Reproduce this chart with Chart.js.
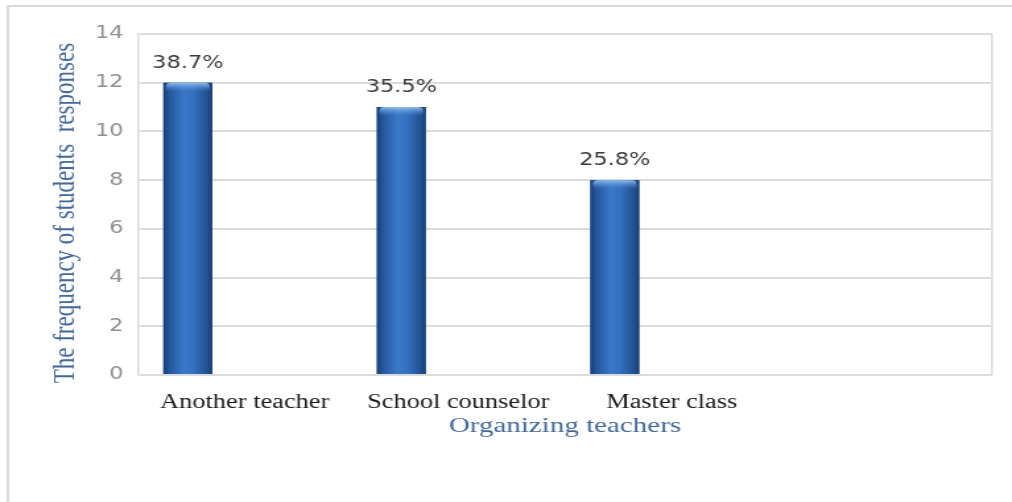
<!DOCTYPE html>
<html>
<head>
<meta charset="utf-8">
<script src="https://cdn.jsdelivr.net/npm/chart.js@4/dist/chart.umd.min.js"></script>
<style>
  html, body { margin: 0; padding: 0; background: #fff; }
  #wrap { width: 1012px; height: 502px; overflow: hidden; }
  /* the source picture is stretched sideways, so the canvas is too */
  #chart { transform: scaleX(1.3194); transform-origin: 0 0; }
</style>
</head>
<body>
<div id="wrap"><canvas id="chart" width="767" height="502"></canvas></div>
<script>
const categories = ['Another teacher', 'School counselor', 'Master class', ''];
const responses = [12, 11, 8, null];
const percentLabels = ['38.7%', '35.5%', '25.8%', ''];
// the original sheet had two more (empty) series, which is why the bars sit left of their labels
const series2 = [null, null, null, null];
const series3 = [null, null, null, null];
const yMin = 0, yMax = 14, yStep = 2;

const gridGrey = '#dcdcdc';
const titleBlue = '#41679b';

const frame = {
  id: 'frame',
  beforeDraw(chart) {
    const ctx = chart.ctx;
    ctx.save();
    ctx.strokeStyle = '#d9d9d9';
    ctx.lineWidth = 2;
    ctx.beginPath();
    ctx.moveTo(6, chart.height);
    ctx.lineTo(6, 6);
    ctx.lineTo(chart.width, 6);
    ctx.stroke();
    ctx.restore();
  },
  afterDraw(chart) {
    const a = chart.chartArea, ctx = chart.ctx;
    ctx.save();
    ctx.strokeStyle = gridGrey;
    ctx.lineWidth = 1.5;
    ctx.beginPath();
    ctx.moveTo(a.right, a.top);
    ctx.lineTo(a.right, a.bottom);
    ctx.stroke();
    ctx.restore();
  }
};

const barLook = {
  id: 'barLook',
  afterDatasetsDraw(chart) {
    const ctx = chart.ctx;
    const meta = chart.getDatasetMeta(0);
    meta.data.forEach((bar, i) => {
      if (responses[i] == null) return;
      const { x, y, width, base } = bar.getProps(['x', 'y', 'width', 'base'], true);
      const l = x - width / 2, r = x + width / 2;
      ctx.save();
      const g = ctx.createLinearGradient(l, 0, r, 0);
      g.addColorStop(0, '#163e74');
      g.addColorStop(0.12, '#24579b');
      g.addColorStop(0.42, '#3a78c9');
      g.addColorStop(0.62, '#3470bf');
      g.addColorStop(0.9, '#21508f');
      g.addColorStop(1, '#173f72');
      ctx.fillStyle = g;
      ctx.fillRect(l, y, width, base - y);
      // lighter rounded cap on top
      const cap = ctx.createLinearGradient(0, y, 0, y + 9);
      cap.addColorStop(0, 'rgba(150,195,240,0.95)');
      cap.addColorStop(1, 'rgba(80,140,215,0)');
      ctx.fillStyle = cap;
      ctx.beginPath();
      ctx.roundRect(l + 2, y, width - 4, 9, [4, 4, 0, 0]);
      ctx.fill();
      // percentage label
      ctx.fillStyle = '#3a3a3a';
      ctx.font = '17px "DejaVu Sans"';
      ctx.textAlign = 'center';
      ctx.textBaseline = 'alphabetic';
      ctx.fillText(percentLabels[i], x, y - 15);
      ctx.restore();
    });
  }
};

new Chart(document.getElementById('chart'), {
  type: 'bar',
  data: {
    labels: categories,
    datasets: [
      { label: 'Responses', data: responses, backgroundColor: '#2d63a8', categoryPercentage: 0.8, barPercentage: 0.86 },
      { label: 'Series 2', data: series2, backgroundColor: '#c0504d', categoryPercentage: 0.8, barPercentage: 0.86 },
      { label: 'Series 3', data: series3, backgroundColor: '#9bbb59', categoryPercentage: 0.8, barPercentage: 0.86 }
    ]
  },
  options: {
    responsive: false,
    animation: false,
    layout: { padding: { left: 0, top: 34, right: 15.2, bottom: 0 } },
    plugins: { legend: { display: false }, tooltip: { enabled: false } },
    scales: {
      x: {
        grid: { display: false },
        border: { display: false },
        ticks: { color: '#1a1a1a', padding: 8, maxRotation: 0, font: { family: '"Liberation Serif"', size: 20 } },
        title: {
          display: true, text: 'Organizing teachers', color: titleBlue,
          font: { family: '"Liberation Serif"', size: 22 }, padding: { top: 0, bottom: 63 }
        },
        afterFit(scale) { scale.height = 127; }
      },
      y: {
        min: yMin, max: yMax,
        grid: { color: gridGrey, lineWidth: 2, drawTicks: false },
        border: { display: true, color: gridGrey, width: 1.5 },
        ticks: { stepSize: yStep, color: '#8f8f8f', padding: 11, font: { family: '"DejaVu Sans"', size: 17 } },
        title: {
          display: true, text: 'The frequency of students  responses   ', color: titleBlue,
          font: { family: '"Liberation Serif"', size: 23 }, padding: { top: 36, bottom: 0 }
        },
        afterFit(scale) { scale.width = 104.6; }
      }
    }
  },
  plugins: [frame, barLook]
});
</script>
</body>
</html>
